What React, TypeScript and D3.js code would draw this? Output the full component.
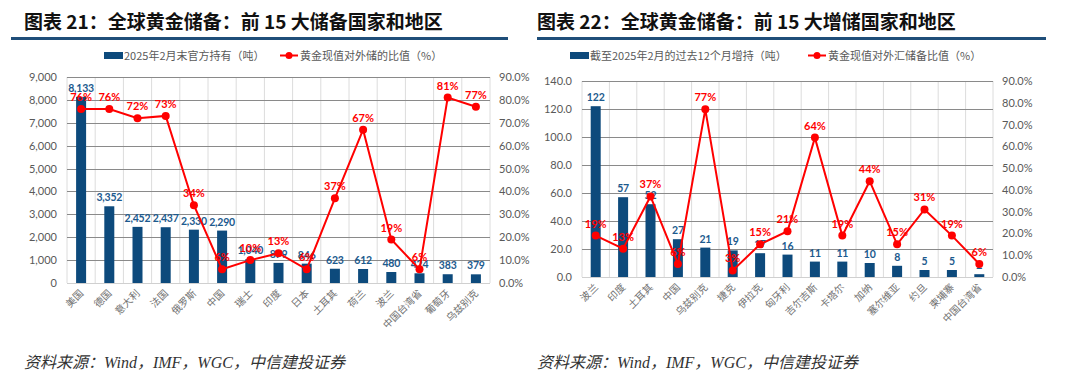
import { useEffect, useRef } from 'react';
import * as d3 from 'd3';

// ---- data: chart 21 (top 15 holders) ----
const holdersCats = ['美国', '德国', '意大利', '法国', '俄罗斯', '中国', '瑞士', '印度', '日本', '土耳其', '荷兰', '波兰', '中国台湾省', '葡萄牙', '乌兹别克'];
const holdersTons = [8133, 3352, 2452, 2437, 2330, 2290, 1040, 879, 846, 623, 612, 480, 424, 383, 379];
const holdersPct = [76, 76, 72, 73, 34, 6, 10, 13, 6, 37, 67, 19, 6, 81, 77];
const holdersTicks = [0, 1000, 2000, 3000, 4000, 5000, 6000, 7000, 8000, 9000];

// ---- data: chart 22 (top 15 buyers, 12m to Feb 2025) ----
const buyersCats = ['波兰', '印度', '土耳其', '中国', '乌兹别克', '捷克', '伊拉克', '匈牙利', '吉尔吉斯', '卡塔尔', '加纳', '塞尔维亚', '约旦', '柬埔寨', '中国台湾省'];
const buyersTons = [122, 57, 52, 27, 21, 19, 17, 16, 11, 11, 10, 8, 5, 5, 2];
const buyersPct = [19, 13, 37, 6, 77, 3, 15, 21, 64, 19, 44, 15, 31, 19, 6];
const buyersTicks = [0, 20, 40, 60, 80, 100, 120, 140];

const pctTicks = [0, 10, 20, 30, 40, 50, 60, 70, 80, 90];

const BAR = '#0d4a7c';
const BAR_LABEL = '#1c5a8e';
const RED = '#ff0000';
const AXIS_TXT = '#595959';
const SANS = '"Noto Sans CJK SC", "Noto Sans", sans-serif';
const NUM = 'Lato, "Noto Sans", sans-serif';

interface PanelProps {
  title: string;
  ruleX: [number, number];
  titleX: number;
  box: { x0: number; x1: number; y0: number; y1: number };
  cats: string[];
  tons: number[];
  pct: number[];
  ticks: number[];
  tickFmt: (v: number) => string;
  barLabelFmt: (v: number) => string;
  legendBar: string;
  legendLine: string;
  legendX: [number, number];
}

function Panel(p: PanelProps) {
  const ref = useRef<SVGGElement>(null);

  useEffect(() => {
    if (!ref.current) return;
    const g = d3.select(ref.current);
    g.selectAll('*').remove();
    const { x0, x1, y0, y1 } = p.box;

    const x = d3.scaleBand<string>().domain(p.cats).range([x0, x1]);
    const yL = d3.scaleLinear().domain([0, d3.max(p.ticks) as number]).range([y1, y0]);
    const yR = d3.scaleLinear().domain([0, 90]).range([y1, y0]);

    // title + rule
    g.append('text')
      .attr('x', p.titleX)
      .attr('y', 29)
      .attr('font-family', SANS)
      .attr('font-weight', 700)
      .attr('font-size', 19)
      .attr('fill', '#111')
      .text(p.title);
    g.append('rect')
      .attr('x', p.ruleX[0])
      .attr('y', 37)
      .attr('width', p.ruleX[1] - p.ruleX[0])
      .attr('height', 3)
      .attr('fill', '#1f4e79');

    // legend
    g.append('rect')
      .attr('x', p.legendX[0])
      .attr('y', 52)
      .attr('width', 19)
      .attr('height', 7)
      .attr('fill', BAR);
    g.append('text')
      .attr('x', p.legendX[0] + 20)
      .attr('y', 59.5)
      .attr('font-family', SANS)
      .attr('font-size', 11)
      .attr('fill', AXIS_TXT)
      .text(p.legendBar);
    g.append('line')
      .attr('x1', p.legendX[1])
      .attr('x2', p.legendX[1] + 18)
      .attr('y1', 55.5)
      .attr('y2', 55.5)
      .attr('stroke', RED)
      .attr('stroke-width', 2);
    g.append('circle')
      .attr('cx', p.legendX[1] + 9)
      .attr('cy', 55.5)
      .attr('r', 3.5)
      .attr('fill', RED);
    g.append('text')
      .attr('x', p.legendX[1] + 20)
      .attr('y', 59.5)
      .attr('font-family', SANS)
      .attr('font-size', 11)
      .attr('fill', AXIS_TXT)
      .text(p.legendLine);

    // vertical grid (light)
    const bounds = p.cats.map((c) => x(c) as number).concat([x1]);
    g.append('g')
      .selectAll('line')
      .data(bounds)
      .join('line')
      .attr('x1', (d) => d)
      .attr('x2', (d) => d)
      .attr('y1', y0)
      .attr('y2', y1)
      .attr('stroke', '#dcdcdc')
      .attr('stroke-width', 1);

    // horizontal grid (dark)
    g.append('g')
      .selectAll('line')
      .data(p.ticks.filter((t) => t > 0))
      .join('line')
      .attr('x1', x0)
      .attr('x2', x1)
      .attr('y1', (d) => Math.round(yL(d)) + 0.5)
      .attr('y2', (d) => Math.round(yL(d)) + 0.5)
      .attr('stroke', '#8a8a8a')
      .attr('stroke-width', 1);
    g.append('line')
      .attr('x1', x0)
      .attr('x2', x1)
      .attr('y1', y1 + 0.5)
      .attr('y2', y1 + 0.5)
      .attr('stroke', '#d0d0d0');

    // left axis labels
    g.append('g')
      .selectAll('text')
      .data(p.ticks)
      .join('text')
      .attr('x', x0 - 10)
      .attr('y', (d) => yL(d) + 4)
      .attr('text-anchor', 'end')
      .attr('font-family', NUM)
      .attr('font-size', 11)
      .attr('fill', AXIS_TXT)
      .text((d) => p.tickFmt(d));

    // right axis labels
    g.append('g')
      .selectAll('text')
      .data(pctTicks)
      .join('text')
      .attr('x', x1 + 9)
      .attr('y', (d) => yR(d) + 4)
      .attr('font-family', NUM)
      .attr('font-size', 11)
      .attr('fill', AXIS_TXT)
      .text((d) => d3.format('.1f')(d) + '%');

    // bars
    const bw = 10;
    const cx = (i: number) => (x(p.cats[i]) as number) + x.bandwidth() / 2;
    g.append('g')
      .selectAll('rect')
      .data(p.tons)
      .join('rect')
      .attr('x', (_, i) => cx(i) - bw / 2)
      .attr('y', (d) => yL(d))
      .attr('width', bw)
      .attr('height', (d) => y1 - yL(d))
      .attr('fill', BAR);

    // bar labels
    g.append('g')
      .selectAll('text')
      .data(p.tons)
      .join('text')
      .attr('x', (_, i) => cx(i))
      .attr('y', (d) => yL(d) - 5)
      .attr('text-anchor', 'middle')
      .attr('font-family', NUM)
      .attr('font-weight', 700)
      .attr('font-size', 10.5)
      .attr('letter-spacing', -0.2)
      .attr('fill', BAR_LABEL)
      .text((d) => p.barLabelFmt(d));

    // line
    const line = d3
      .line<number>()
      .x((_, i) => cx(i))
      .y((d) => yR(d));
    g.append('path')
      .attr('d', line(p.pct) as string)
      .attr('fill', 'none')
      .attr('stroke', RED)
      .attr('stroke-width', 2);
    g.append('g')
      .selectAll('circle')
      .data(p.pct)
      .join('circle')
      .attr('cx', (_, i) => cx(i))
      .attr('cy', (d) => yR(d))
      .attr('r', 4)
      .attr('fill', RED);
    g.append('g')
      .selectAll('text')
      .data(p.pct)
      .join('text')
      .attr('x', (_, i) => cx(i))
      .attr('y', (d) => yR(d) - 8)
      .attr('text-anchor', 'middle')
      .attr('font-family', NUM)
      .attr('font-weight', 700)
      .attr('font-size', 11)
      .attr('fill', RED)
      .text((d) => d + '%');

    // category labels
    g.append('g')
      .selectAll('text')
      .data(p.cats)
      .join('text')
      .attr('transform', (_, i) => `translate(${cx(i) + 3},${y1 + 11}) rotate(-45)`)
      .attr('text-anchor', 'end')
      .attr('font-family', SANS)
      .attr('font-size', 10)
      .attr('fill', '#707070')
      .text((d) => d);

    // source
    g.append('text')
      .attr('x', p.titleX)
      .attr('y', 368)
      .attr('font-family', '"Liberation Serif", "Noto Sans CJK SC", serif')
      .attr('font-style', 'italic')
      .attr('font-size', 16)
      .attr('fill', '#333')
      .text('资料来源：Wind，IMF，WGC，中信建投证券');
  }, [p]);

  return <g ref={ref} />;
}

const fmtThousands = d3.format(',');

export default function App() {
  return (
    <svg
      width={1080}
      height={390}
      style={{ position: 'absolute', left: 0, top: 0, background: '#fff' }}
    >
      <Panel
        title="图表 21：全球黄金储备：前 15 大储备国家和地区"
        titleX={24}
        ruleX={[11, 508]}
        box={{ x0: 67, x1: 490, y0: 77, y1: 283 }}
        cats={holdersCats}
        tons={holdersTons}
        pct={holdersPct}
        ticks={holdersTicks}
        tickFmt={(v) => fmtThousands(v)}
        barLabelFmt={(v) => fmtThousands(v)}
        legendBar="2025年2月末官方持有（吨）"
        legendLine="黄金现值对外储的比值（%）"
        legendX={[104, 280]}
      />
      <Panel
        title="图表 22：全球黄金储备：前 15 大增储国家和地区"
        titleX={537}
        ruleX={[537, 1046]}
        box={{ x0: 582, x1: 993, y0: 81, y1: 277 }}
        cats={buyersCats}
        tons={buyersTons}
        pct={buyersPct}
        ticks={buyersTicks}
        tickFmt={(v) => d3.format('.1f')(v)}
        barLabelFmt={(v) => String(v)}
        legendBar="截至2025年2月的过去12个月增持（吨）"
        legendLine="黄金现值对外汇储备比值（%）"
        legendX={[570, 808]}
      />
    </svg>
  );
}
